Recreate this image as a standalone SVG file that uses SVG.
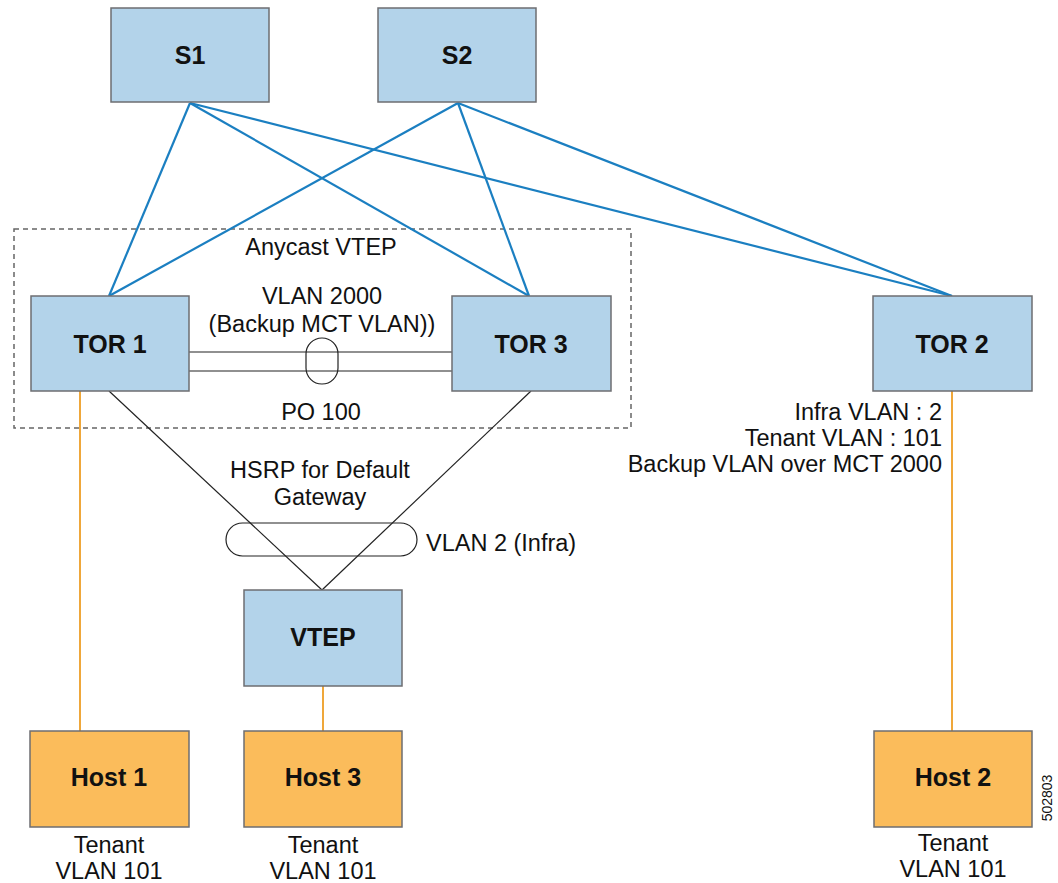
<svg xmlns="http://www.w3.org/2000/svg" width="1058" height="883" viewBox="0 0 1058 883">
<style>
.sw{fill:#b3d3ea;stroke:#6d6e71;stroke-width:1.5}
.host{fill:#fbbc5b;stroke:#6d6e71;stroke-width:1.5}
.lbl{font-family:"Liberation Sans",Arial,sans-serif;font-weight:bold;font-size:25px;fill:#111;text-anchor:middle}
.t{font-family:"Liberation Sans",Arial,sans-serif;font-size:23.5px;fill:#111}
.c{text-anchor:middle}
.blue{stroke:#1b7fc1;stroke-width:2.2;fill:none}
.blk{stroke:#222;stroke-width:1.2;fill:none}
.org{stroke:#efa73a;stroke-width:2;fill:none}
</style>
<rect x="14" y="229" width="617" height="199" fill="none" stroke="#666" stroke-width="1.5" stroke-dasharray="5,4"/>
<g id="connectors">
<line class="blue" x1="190" y1="103" x2="109" y2="296"/>
<line class="blue" x1="190" y1="103" x2="529" y2="296"/>
<line class="blue" x1="190" y1="103" x2="952" y2="296"/>
<line class="blue" x1="458" y1="103" x2="109" y2="296"/>
<line class="blue" x1="458" y1="103" x2="529" y2="296"/>
<line class="blue" x1="458" y1="103" x2="952" y2="296"/>
<line class="blk" x1="189" y1="352" x2="452" y2="352"/>
<line class="blk" x1="189" y1="371" x2="452" y2="371"/>
<rect x="306" y="338" width="32" height="46" rx="16" ry="16" fill="none" stroke="#222" stroke-width="1.2"/>
<line class="blk" x1="109" y1="391" x2="322" y2="590"/>
<line class="blk" x1="531" y1="391" x2="322" y2="590"/>
<rect x="226" y="523" width="191" height="33" rx="16.5" ry="16.5" fill="none" stroke="#222" stroke-width="1.2"/>
<line class="org" x1="80" y1="391" x2="80" y2="731"/>
<line class="org" x1="323" y1="686" x2="323" y2="731"/>
<line class="org" x1="952" y1="391" x2="952" y2="731"/>
</g>
<g id="S1"><rect class="sw" x="111" y="8" width="158" height="94"/><text class="lbl" x="190" y="64">S1</text></g>
<g id="S2"><rect class="sw" x="378" y="8" width="158" height="94"/><text class="lbl" x="457" y="64">S2</text></g>
<g id="TOR1"><rect class="sw" x="31" y="296" width="158" height="95"/><text class="lbl" x="110" y="353">TOR 1</text></g>
<g id="TOR3"><rect class="sw" x="452" y="296" width="159" height="95"/><text class="lbl" x="531" y="353">TOR 3</text></g>
<g id="TOR2"><rect class="sw" x="873" y="296" width="159" height="95"/><text class="lbl" x="952" y="353">TOR 2</text></g>
<g id="VTEP"><rect class="sw" x="244" y="590" width="158" height="96"/><text class="lbl" x="323" y="646">VTEP</text></g>
<g id="Host1"><rect class="host" x="30" y="731" width="159" height="96"/><text class="lbl" x="109" y="786">Host 1</text></g>
<g id="Host3"><rect class="host" x="244" y="731" width="158" height="96"/><text class="lbl" x="323" y="786">Host 3</text></g>
<g id="Host2"><rect class="host" x="874" y="731" width="158" height="96"/><text class="lbl" x="953" y="786">Host 2</text></g>
<g id="labels">
<text class="t c" x="321" y="255">Anycast VTEP</text>
<text class="t c" x="322" y="304">VLAN 2000</text>
<text class="t c" x="322" y="332">(Backup MCT VLAN))</text>
<text class="t c" x="321" y="420">PO 100</text>
<text class="t c" x="320" y="478">HSRP for Default</text>
<text class="t c" x="320" y="505">Gateway</text>
<text class="t" x="426" y="551">VLAN 2 (Infra)</text>
<text class="t" x="942" y="420" text-anchor="end">Infra VLAN : 2</text>
<text class="t" x="942" y="446" text-anchor="end">Tenant VLAN : 101</text>
<text class="t" x="942" y="472" text-anchor="end">Backup VLAN over MCT 2000</text>
<text class="t c" x="109" y="853">Tenant</text>
<text class="t c" x="109" y="879">VLAN 101</text>
<text class="t c" x="323" y="853">Tenant</text>
<text class="t c" x="323" y="879">VLAN 101</text>
<text class="t c" x="953" y="851">Tenant</text>
<text class="t c" x="953" y="877">VLAN 101</text>
<text font-family="'Liberation Sans',Arial,sans-serif" font-size="14" fill="#111" text-anchor="middle" transform="translate(1052,798) rotate(-90)">502803</text>
</g>
</svg>
